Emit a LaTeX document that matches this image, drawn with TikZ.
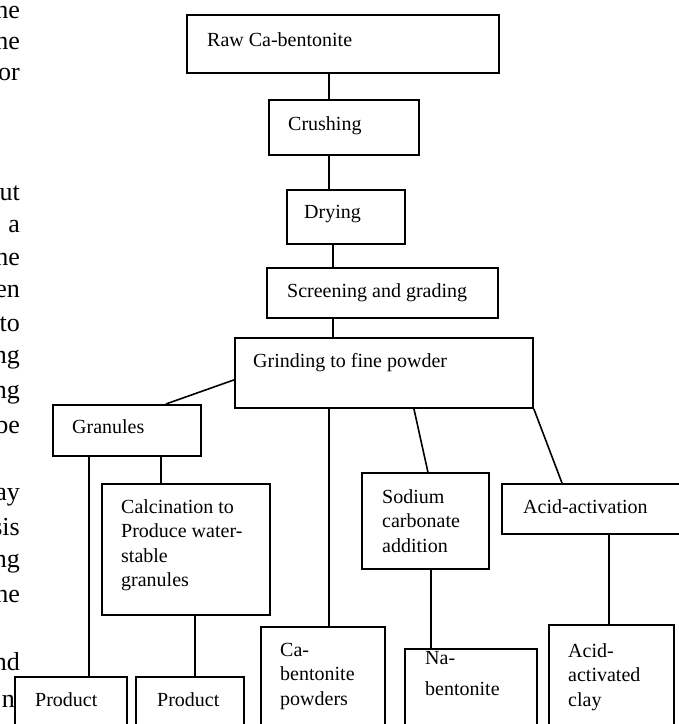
\documentclass[tikz,border=0pt]{standalone}
\usepackage{fontspec}
\setmainfont{Liberation Serif}
\usetikzlibrary{positioning}

\begin{document}
\begin{tikzpicture}[x=1pt,y=-1pt,
        box/.style={draw,line width=1.8pt,fill=white,rectangle,inner sep=0pt,anchor=north west},
        txt/.style={anchor=base west,inner sep=0pt,align=left,font=\fontsize{20}{24.5}\selectfont},
        frag/.style={anchor=base east,inner sep=0pt,font=\fontsize{26}{33}\selectfont},
        link/.style={line width=1.6pt}]
   \useasboundingbox (0,0) rectangle (679,724);
   \clip (0,0) rectangle (679,724);
   % ends of the page text on the left
   \foreach \y/\w [count=\i] in {18/he,49/he,80/or,200/ut,232/a,265/he,297/en,331/to,363/ng,
         398/ng,433/be,500/ay,535/sis,567/ng,602/he,670/nd}
      \node[frag] (frag\i) at (20,\y) {\w};
   \node[frag] (fragn) at (15,707) {n};
   % boxes
   \node[box,minimum width=312pt,minimum height=58pt] (raw) at (186,14) {};
   \node[box,minimum width=150pt,minimum height=55pt] (crush) at (268,99) {};
   \node[box,minimum width=118pt,minimum height=54pt] (dry) at (286,189) {};
   \node[box,minimum width=231pt,minimum height=50pt] (screen) at (266,267) {};
   \node[box,minimum width=298pt,minimum height=70pt] (grind) at (234,337) {};
   \node[box,minimum width=148pt,minimum height=51pt] (gran) at (52,404) {};
   \node[box,minimum width=168pt,minimum height=131pt] (calc) at (101,483) {};
   \node[box,minimum width=127pt,minimum height=96pt] (soda) at (361,472) {};
   \node[box,minimum width=190pt,minimum height=50pt] (acid) at (501,483) {};
   \node[box,minimum width=112pt,minimum height=64pt] (prodA) at (14,676) {};
   \node[box,minimum width=108pt,minimum height=64pt] (prodB) at (135,676) {};
   \node[box,minimum width=124pt,minimum height=114pt] (capow) at (260,626) {};
   \node[box,minimum width=132pt,minimum height=92pt] (nab) at (404,648) {};
   \node[box,minimum width=125pt,minimum height=116pt] (clay) at (548,624) {};
   % labels (base = last line)
   \node[txt] (rawt) at (207,46) {Raw Ca-bentonite};
   \node[txt] (crusht) at (288,130) {Crushing};
   \node[txt] (dryt) at (304,218) {Drying};
   \node[txt] (screent) at (287,297) {Screening and grading};
   \node[txt] (grindt) at (253,367) {Grinding to fine powder};
   \node[txt] (grant) at (72,433) {Granules};
   \node[txt] (calct) at (121,586.5) {Calcination to\\Produce water-\\stable\\granules};
   \node[txt] (sodat) at (382,552) {Sodium\\carbonate\\addition};
   \node[txt] (acidt) at (523,513) {Acid-activation};
   \node[txt] (prodAt) at (35,706) {Product};
   \node[txt] (prodBt) at (157,706) {Product};
   \node[txt] (capowt) at (280,705) {Ca-\\bentonite\\powders};
   \node[txt] (nabt) at (425,695) {Na-\\[6pt]bentonite};
   \node[txt] (clayt) at (568,706) {Acid-\\activated\\clay};
   % connectors
   \draw[link] ([xshift=-14pt]raw.south) -- ([xshift=-14pt]raw.south |- crush.north);
   \draw[link] ([xshift=-15pt]crush.south) -- ([xshift=-15pt]crush.south |- dry.north);
   \draw[link] ([xshift=-13pt]dry.south) -- ([xshift=-13pt]dry.south |- screen.north);
   \draw[link] ([xshift=-49.5pt]screen.south) -- ([xshift=-49.5pt]screen.south |- grind.north);
   \draw[link] ([yshift=-7pt]grind.west) -- ([xshift=39pt]gran.north);
   \draw[link] ([xshift=-38pt]gran.south) -- ([xshift=-38pt]gran.south |- prodA.north);
   \draw[link] ([xshift=34pt]gran.south) -- ([xshift=34pt]gran.south |- calc.north);
   \draw[link] ([xshift=9pt]calc.south) -- ([xshift=9pt]calc.south |- prodB.north);
   \draw[link] ([xshift=-55pt]grind.south) -- ([xshift=-55pt]grind.south |- capow.north);
   \draw[link] ([xshift=30pt]grind.south) -- ([xshift=2.5pt]soda.north);
   \draw[link] (grind.south east) -- ([xshift=61pt]acid.north west);
   \draw[link] ([xshift=5.5pt]soda.south) -- ([xshift=5.5pt]soda.south |- nab.north);
   \draw[link] ([xshift=108pt]acid.south west) -- ([xshift=108pt]acid.south west |- clay.north);
\end{tikzpicture}
\end{document}
